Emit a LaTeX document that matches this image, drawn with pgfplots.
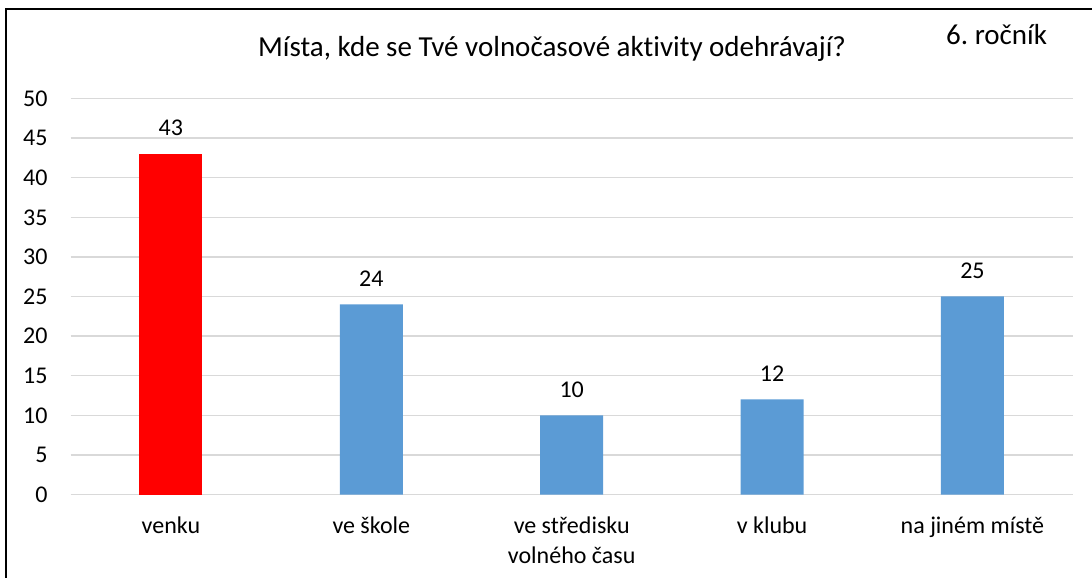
\documentclass[border=0pt]{standalone}
\usepackage{fontspec}
\setmainfont{Carlito}[Ligatures={NoCommon}]
\usepackage{pgfplots}
\pgfplotsset{compat=1.18}
\definecolor{barblue}{HTML}{5B9BD5}
\definecolor{gridgrey}{HTML}{D9D9D9}
\newcommand{\twolines}[2]{\vtop{\baselineskip=29.5bp\halign{\hfil##\hfil\cr #1\cr #2\cr}}}
\frenchspacing
\begin{document}
\begin{tikzpicture}[font=\fontsize{24bp}{28bp}\selectfont]
\begin{axis}[
  at={(70.7bp,83.5bp)}, anchor=south west,
  scale only axis, width=1002bp, height=396bp,
  ybar, bar width=63bp, bar shift=0pt,
  xmin=-0.5, xmax=4.5, ymin=0, ymax=50, ytick distance=5,
  xtick={0,1,2,3,4},
  xticklabels={venku, ve škole, {\twolines{ve středisku}{volného času}}, v klubu, na jiném místě},
  tick label style={font=\fontsize{24bp}{28bp}\selectfont},
  xticklabel style={anchor=base, inner sep=0pt, yshift=-39bp},
  yticklabel style={anchor=east, inner sep=0pt, xshift=-23bp},
  /pgf/number format/assume math mode=true,
  ymajorgrids, major grid style={draw=gridgrey, line width=1.3bp},
  axis line style={draw=none}, major tick length=0pt,
  tick style={draw=none},
  nodes near coords,
  every node near coord/.append style={anchor=base, inner sep=0pt, yshift=18bp, black,
    font=\fontsize{24bp}{28bp}\selectfont},
]
\addplot[draw=none, fill=red] coordinates {(0,43)};
\addplot[draw=none, fill=barblue] coordinates {(1,24) (2,10) (3,12) (4,25)};
\end{axis}
\node[anchor=base, inner sep=0pt, font=\fontsize{29bp}{34bp}\selectfont] at (552bp,521bp) {Místa, kde se Tvé volnočasové aktivity odehrávají?};
\node[anchor=base west, inner sep=0pt, font=\fontsize{29bp}{34bp}\selectfont] at (946bp,533bp) {6. ročník};
\draw[line width=1.5bp] (6bp,0bp) -- (6bp,569bp) -- (1092bp,569bp);
\pgfresetboundingbox
\path[use as bounding box] (0bp,0bp) rectangle (1092bp,578bp);
\end{tikzpicture}
\end{document}
